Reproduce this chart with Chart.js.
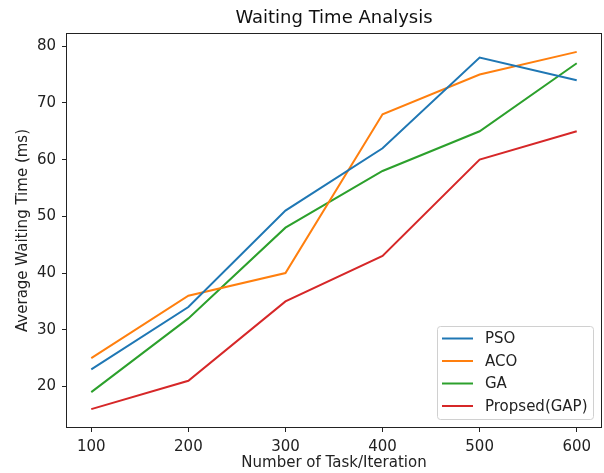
<!DOCTYPE html>
<html>
<head>
<meta charset="utf-8">
<title>Waiting Time Analysis</title>
<script src="https://cdn.jsdelivr.net/npm/chart.js@4.4.1/dist/chart.umd.min.js"></script>
<style>
  body { margin: 0; background: #fff; }
  #wrap { width: 604px; height: 473px; }
</style>
</head>
<body>
<div id="wrap"><canvas id="waitChart" width="604" height="473"></canvas></div>
<script>
// data
const tasks = [100, 200, 300, 400, 500, 600];
const pso = [23, 34, 51, 62, 78, 74];
const aco = [25, 36, 40, 68, 75, 79];
const ga = [19, 32, 48, 58, 65, 77];
const gap = [16, 21, 35, 43, 60, 65];
const seriesNames = ['PSO', 'ACO', 'GA', 'Propsed(GAP)'];
const xTicks = [100, 200, 300, 400, 500, 600];
const yTicks = [20, 30, 40, 50, 60, 70, 80];
const chartTitle = 'Waiting Time Analysis';

const colors = ['#1f77b4', '#ff7f0e', '#2ca02c', '#d62728'];
const FONT = 'DejaVu Sans';

function toPoints(vals) {
	return tasks.map((t, i) => ({ x: t, y: vals[i] }));
}

// frame around the plot area + title centred over it
const framePlugin = {
	id: 'frame',
	afterDraw(chart) {
		const a = chart.chartArea;
		const ctx = chart.ctx;
		ctx.save();
		ctx.strokeStyle = '#222';
		ctx.lineWidth = 1;
		ctx.strokeRect(Math.round(a.left) - 0.5, Math.round(a.top) - 0.5,
			Math.round(a.right - a.left) + 1, Math.round(a.bottom - a.top) + 1);
		ctx.font = '18px "' + FONT + '"';
		ctx.fillStyle = '#111';
		ctx.textAlign = 'center';
		ctx.textBaseline = 'middle';
		ctx.fillText(chartTitle, (a.left + a.right) / 2, 18);
		ctx.restore();
	}
};

// legend box in the lower right corner of the plot area
const legendPlugin = {
	id: 'boxLegend',
	afterDraw(chart) {
		const a = chart.chartArea;
		const ctx = chart.ctx;
		const w = 156, h = 93;
		const x0 = a.right - 8 - w, y0 = a.bottom - 8 - h;
		ctx.save();
		ctx.beginPath();
		ctx.roundRect(x0 + 0.5, y0 + 0.5, w, h, 3);
		ctx.fillStyle = 'rgba(255,255,255,0.8)';
		ctx.fill();
		ctx.strokeStyle = '#d0d0d0';
		ctx.lineWidth = 1;
		ctx.stroke();
		ctx.font = '15px "' + FONT + '"';
		ctx.textBaseline = 'middle';
		ctx.fillStyle = '#222';
		chart.data.datasets.forEach((ds, i) => {
			const y = y0 + 12.5 + i * 22.5;
			ctx.strokeStyle = ds.borderColor;
			ctx.lineWidth = 2;
			ctx.beginPath();
			ctx.moveTo(x0 + 5, y);
			ctx.lineTo(x0 + 36, y);
			ctx.stroke();
			ctx.fillText(ds.label, x0 + 48, y + 1);
		});
		ctx.restore();
	}
};

createChart();

function createChart() {
	const ctx = document.getElementById('waitChart').getContext('2d');
	const allSeries = [pso, aco, ga, gap];
	new Chart(ctx, {
		type: 'line',
		data: {
			datasets: allSeries.map((s, i) => ({
				label: seriesNames[i],
				data: toPoints(s),
				borderColor: colors[i],
				backgroundColor: colors[i],
				borderWidth: 2,
				pointRadius: 0,
				tension: 0,
				fill: false
			}))
		},
		options: {
			responsive: false,
			animation: false,
			devicePixelRatio: 1,
			layout: { padding: { left: 0, right: 3, top: 34, bottom: 0 } },
			plugins: {
				legend: { display: false },
				tooltip: { enabled: false },
				title: { display: false }
			},
			scales: {
				x: {
					type: 'linear',
					min: 75,
					max: 625,
					afterBuildTicks: (s) => { s.ticks = xTicks.map(v => ({ value: v })); },
					afterFit: (s) => { s.height = 46; },
					border: { display: false },
					grid: { drawOnChartArea: false, drawTicks: true, tickLength: 5, tickColor: '#222' },
					ticks: { color: '#222', padding: 6, maxRotation: 0, font: { family: FONT, size: 15 } },
					title: {
						display: true,
						text: 'Number of Task/Iteration',
						color: '#222',
						font: { family: FONT, size: 15, lineHeight: 1.2 },
						padding: { top: 0, bottom: 1 }
					}
				},
				y: {
					min: 12.85,
					max: 82.15,
					afterBuildTicks: (s) => { s.ticks = yTicks.map(v => ({ value: v })); },
					afterFit: (s) => { s.width = 67; },
					border: { display: false },
					grid: { drawOnChartArea: false, drawTicks: true, tickLength: 5, tickColor: '#222' },
					ticks: { color: '#222', padding: 6, font: { family: FONT, size: 15 } },
					title: {
						display: true,
						text: 'Average Waiting Time (ms)',
						color: '#222',
						font: { family: FONT, size: 15, lineHeight: 1.2 },
						padding: { top: 14, bottom: 0 }
					}
				}
			}
		},
		plugins: [framePlugin, legendPlugin]
	});
}
</script>
</body>
</html>
